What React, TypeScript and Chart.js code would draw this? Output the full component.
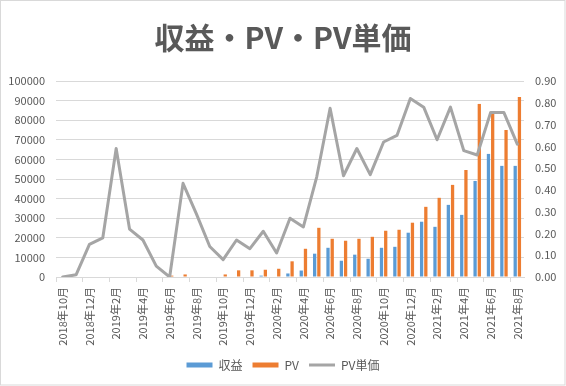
import React, { useEffect, useRef } from "react";
import { Chart, registerables } from "chart.js";

Chart.register(...registerables);

const months = [
  "2018年10月", "2018年11月", "2018年12月", "2019年1月", "2019年2月", "2019年3月",
  "2019年4月", "2019年5月", "2019年6月", "2019年7月", "2019年8月", "2019年9月",
  "2019年10月", "2019年11月", "2019年12月", "2020年1月", "2020年2月", "2020年3月",
  "2020年4月", "2020年5月", "2020年6月", "2020年7月", "2020年8月", "2020年9月",
  "2020年10月", "2020年11月", "2020年12月", "2021年1月", "2021年2月", "2021年3月",
  "2021年4月", "2021年5月", "2021年6月", "2021年7月", "2021年8月",
];

const revenue = [
  0, 0, 0, 0, 0, 0, 0, 0, 0, 0, 0, 0, 0, 0, 0, 700, 0, 1800,
  3300, 11900, 14900, 8300, 11400, 9300, 14900, 15400, 22600, 28200, 25600, 36800,
  31700, 49000, 62800, 56700, 56700,
];

const pageViews = [
  0, 0, 0, 0, 0, 0, 0, 0, 700, 1300, 0, 0, 1300, 3400, 3400, 3700, 4200, 8000,
  14400, 25100, 19500, 18500, 19500, 20500, 23600, 24100, 27700, 35800, 40400, 47000,
  54600, 88300, 83200, 75000, 91800,
];

const pvUnitPrice = [
  0.0, 0.01, 0.15, 0.18, 0.59, 0.22, 0.17, 0.05, 0.0, 0.43, 0.29, 0.14, 0.08, 0.17,
  0.13, 0.21, 0.11, 0.27, 0.23, 0.46, 0.775, 0.465, 0.59, 0.47, 0.62, 0.65, 0.82,
  0.78, 0.63, 0.78, 0.58, 0.56, 0.755, 0.755, 0.61,
];

const seriesNames = ["収益", "PV", "PV単価"];
const titleText = "収益・PV・PV単価";

const BLUE = "#5b9bd5";
const ORANGE = "#ed7d31";
const GRAY = "#a5a5a5";
const TEXT = "#595959";
const GRID = "#d9d9d9";
const FONT = "'Noto Sans CJK JP', 'Noto Sans', sans-serif";

const borderPlugin = {
  id: "bgBorder",
  beforeDraw(chart: any) {
    const { ctx, width, height } = chart;
    ctx.save();
    ctx.fillStyle = "#ffffff";
    ctx.fillRect(0, 0, width, height);
    ctx.restore();
  },
  afterDraw(chart: any) {
    const { ctx, width, height } = chart;
    ctx.save();
    ctx.strokeStyle = GRID;
    ctx.lineWidth = 1;
    ctx.strokeRect(0.5, 0.5, width - 1.5, height - 1.5);
    ctx.restore();
  },
};

export default function App() {
  const ref = useRef<HTMLCanvasElement | null>(null);

  useEffect(() => {
    document.body.style.margin = "0";
    const canvas = ref.current;
    if (!canvas) return;
    const chart = new Chart(canvas, {
      type: "bar",
      data: {
        labels: months,
        datasets: [
          {
            type: "bar",
            label: seriesNames[0],
            data: revenue,
            backgroundColor: BLUE,
            yAxisID: "y",
            order: 1,
            categoryPercentage: 0.63,
            barPercentage: 0.78,
          },
          {
            type: "bar",
            label: seriesNames[1],
            data: pageViews,
            backgroundColor: ORANGE,
            yAxisID: "y",
            order: 1,
            categoryPercentage: 0.63,
            barPercentage: 0.78,
          },
          {
            type: "line",
            label: seriesNames[2],
            data: pvUnitPrice,
            borderColor: GRAY,
            backgroundColor: GRAY,
            borderWidth: 3,
            pointRadius: 0,
            tension: 0,
            borderJoinStyle: "round",
            borderCapStyle: "round",
            yAxisID: "y1",
            order: 0,
          },
        ] as any,
      },
      options: {
        animation: false,
        responsive: false,
        maintainAspectRatio: false,
        layout: { padding: { left: 0, right: 0, top: 0, bottom: 5 } },
        plugins: {
          tooltip: { enabled: false },
          title: {
            display: true,
            text: titleText,
            color: TEXT,
            font: { family: FONT, size: 30, weight: "bold", lineHeight: 1.2 },
            padding: { top: 20, bottom: 25 },
          },
          legend: {
            position: "bottom",
            labels: {
              color: TEXT,
              font: { family: FONT, size: 12 },
              usePointStyle: true,
              pointStyleWidth: 26,
              boxHeight: 5,
              padding: 10,
              generateLabels: (chart: any) =>
                chart.data.datasets.map((ds: any, i: number) => ({
                  text: ds.label,
                  fillStyle: ds.type === "line" ? "transparent" : ds.backgroundColor,
                  strokeStyle: ds.type === "line" ? GRAY : ds.backgroundColor,
                  lineWidth: ds.type === "line" ? 3 : 0,
                  pointStyle: ds.type === "line" ? "line" : "rect",
                  fontColor: TEXT,
                  hidden: false,
                  datasetIndex: i,
                })),
            },
          },
        },
        scales: {
          x: {
            offset: true,
            grid: {
              display: true,
              drawOnChartArea: false,
              drawTicks: true,
              tickLength: 5,
              color: (ctx: any) => (ctx.index % 2 === 0 ? GRID : "rgba(0,0,0,0)"),
            },
            border: { display: true, color: GRID },
            ticks: {
              autoSkip: false,
              maxRotation: 90,
              minRotation: 90,
              padding: 5,
              color: TEXT,
              font: { family: FONT, size: 11 },
              callback: function (_v: any, index: number) {
                return index % 2 === 0 ? months[index] : "";
              },
            },
            afterFit: (scale: any) => {
              scale.height = 72;
            },
          },
          y: {
            position: "left",
            min: 0,
            max: 100000,
            grid: { color: GRID, drawTicks: false },
            border: { display: false },
            ticks: {
              stepSize: 10000,
              padding: 11,
              color: TEXT,
              font: { family: FONT, size: 11 },
              callback: (v: any) => String(v),
            },
            afterFit: (scale: any) => {
              scale.width = 56;
            },
          },
          y1: {
            position: "right",
            min: 0,
            max: 0.9,
            grid: { display: false, drawTicks: false },
            border: { display: false },
            ticks: {
              stepSize: 0.1,
              padding: 11,
              color: TEXT,
              font: { family: FONT, size: 11 },
              callback: (v: any) => Number(v).toFixed(2),
            },
            afterFit: (scale: any) => {
              scale.width = 42;
            },
          },
        },
      },
      plugins: [borderPlugin],
    });
    return () => chart.destroy();
  }, []);

  return (
    <div style={{ width: 566, height: 386 }}>
      <canvas ref={ref} width={566} height={386} style={{ display: "block" }} />
    </div>
  );
}
